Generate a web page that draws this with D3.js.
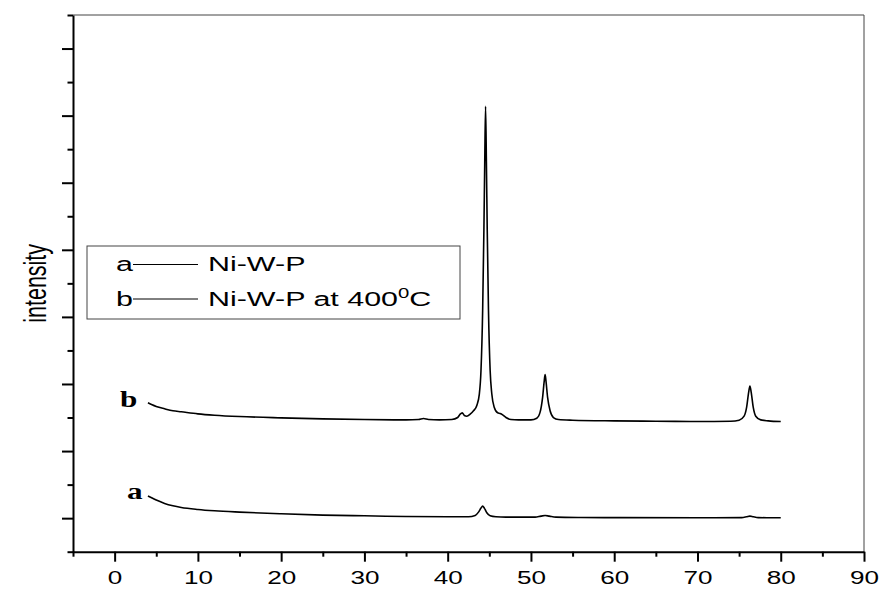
<!DOCTYPE html>
<html>
<head>
<meta charset="utf-8">
<script src="https://cdn.jsdelivr.net/npm/d3@7"></script>
<style>
body { margin: 0; background: #fff; }
</style>
</head>
<body>
<div id="chart"></div>
<script>
// tick values
const xMajor = [0, 10, 20, 30, 40, 50, 60, 70, 80, 90];
const xMinor = [-5, 5, 15, 25, 35, 45, 55, 65, 75, 85];
const yMajor = [0, 1, 2, 3, 4, 5, 6, 7];
const yMinor = [-0.5, 0.5, 1.5, 2.5, 3.5, 4.5, 5.5, 6.5, 7.5];

// curve b : Ni-W-P at 400C
const bTheta = [4, 4.5, 5, 6, 7, 8, 10, 12, 15, 20, 25, 30, 35, 36.5, 37.1, 37.7, 39, 40.5, 41.2, 41.5,
    41.75, 42.0, 42.3, 42.7, 43.1, 43.5, 43.8, 44.0, 44.2, 44.35, 44.45, 44.55, 44.65, 44.75, 44.9, 45.1,
    45.3, 45.6, 46.0, 46.3, 46.6, 47.0, 47.6, 48.5, 50.0, 50.7, 51.1, 51.4, 51.6, 51.7, 51.8, 52.0, 52.3,
    52.7, 53.3, 55, 60, 65, 70, 74, 75.0, 75.6, 75.9, 76.15, 76.3, 76.45, 76.7, 77.0, 77.6, 78.5, 80];
const bInt = [1.72, 1.69, 1.665, 1.63, 1.60, 1.585, 1.555, 1.535, 1.515, 1.495, 1.48, 1.47, 1.465, 1.47, 1.485, 1.47, 1.465, 1.47, 1.5, 1.55,
    1.57, 1.53, 1.52, 1.55, 1.6, 1.68, 1.85, 2.2, 3.1, 4.3, 5.3, 6.14, 5.3, 4.3, 3.1, 2.2,
    1.85, 1.65, 1.57, 1.56, 1.54, 1.5, 1.47, 1.465, 1.465, 1.49, 1.58, 1.8, 2.05, 2.14, 2.05, 1.8, 1.6,
    1.5, 1.47, 1.46, 1.45, 1.445, 1.44, 1.445, 1.46, 1.52, 1.65, 1.88, 1.97, 1.88, 1.65, 1.52, 1.465, 1.45, 1.44];

// curve a : Ni-W-P
const aTheta = [4, 4.5, 5, 6, 7, 8, 10, 12, 15, 20, 25, 30, 35, 40, 42.5, 43.3, 43.7, 44.0, 44.2, 44.4,
    44.7, 45.1, 45.8, 47, 50.5, 51.2, 51.7, 52.2, 53, 56, 60, 70, 75.3, 75.9, 76.3, 76.7, 77.3, 80];
const aInt = [0.33, 0.3, 0.27, 0.22, 0.185, 0.16, 0.13, 0.11, 0.09, 0.065, 0.045, 0.035, 0.025, 0.02, 0.02, 0.04, 0.09, 0.15, 0.18, 0.15,
    0.08, 0.035, 0.02, 0.015, 0.015, 0.03, 0.04, 0.03, 0.015, 0.01, 0.008, 0.005, 0.008, 0.02, 0.03, 0.02, 0.008, 0.005];

const legendKeys = ["a", "b"];
const legendNames = ["Ni-W-P", "Ni-W-P at 400"];

const width = 880, height = 589;
const m = {left: 73, right: 864, top: 15, bottom: 551.7};
const stretch = 1.45;   // the picture's text is wide

const svg = d3.select("#chart").append("svg")
    .attr("width", width)
    .attr("height", height)
    .style("font-family", "'Liberation Sans', Arial, sans-serif");

const x = d3.scaleLinear().domain([-5, 90]).range([m.left, m.right]);
const y = d3.scaleLinear().domain([-0.5, 7.5]).range([m.bottom, m.top]);

// thin frame on top and right
svg.append("path")
    .attr("d", `M${m.left},${m.top}H${m.right}V${m.bottom}`)
    .attr("fill", "none")
    .attr("stroke", "#444")
    .attr("stroke-width", 1);

// x axis
const gx = svg.append("g").attr("transform", `translate(0,${m.bottom})`)
    .call(d3.axisBottom(x).tickValues(xMajor).tickSize(10).tickSizeOuter(0).tickPadding(10));
gx.select(".domain").attr("stroke-width", 2).attr("stroke", "#000");
gx.selectAll(".tick line").attr("stroke-width", 2);
gx.selectAll(".tick text")
    .attr("font-size", 18)
    .attr("font-family", "'Liberation Sans', Arial, sans-serif")
    .attr("fill", "#000")
    .attr("transform", `scale(${stretch},1)`);

const gxm = svg.append("g").attr("transform", `translate(0,${m.bottom})`)
    .call(d3.axisBottom(x).tickValues(xMinor).tickSize(5).tickSizeOuter(0).tickFormat(""));
gxm.select(".domain").remove();
gxm.selectAll(".tick line").attr("stroke-width", 2);

// y axis, no labels
const gy = svg.append("g").attr("transform", `translate(${m.left},0)`)
    .call(d3.axisLeft(y).tickValues(yMajor).tickSize(11).tickSizeOuter(0).tickFormat(""));
gy.select(".domain").attr("stroke-width", 2).attr("stroke", "#000");
gy.selectAll(".tick line").attr("stroke-width", 2);

const gym = svg.append("g").attr("transform", `translate(${m.left},0)`)
    .call(d3.axisLeft(y).tickValues(yMinor).tickSize(5.5).tickSizeOuter(0).tickFormat(""));
gym.select(".domain").remove();
gym.selectAll(".tick line").attr("stroke-width", 2);

svg.append("text")
    .attr("transform", `translate(46,${(m.top + m.bottom) / 2}) scale(${stretch},1) rotate(-90)`)
    .attr("text-anchor", "middle")
    .attr("font-size", 21.5)
    .text("intensity");

// curves
const line = d3.line()
    .x(d => x(d[0]))
    .y(d => y(d[1]))
    .curve(d3.curveMonotoneX);

svg.append("path")
    .datum(d3.zip(aTheta, aInt))
    .attr("d", line)
    .attr("fill", "none")
    .attr("stroke", "#000")
    .attr("stroke-width", 1.6);

svg.append("path")
    .datum(d3.zip(bTheta, bInt))
    .attr("d", line)
    .attr("fill", "none")
    .attr("stroke", "#000")
    .attr("stroke-width", 1.6);

// curve letters
const letterPos = [[127, 499], [120, 407]];
legendKeys.forEach((k, i) => {
    svg.append("text")
        .attr("transform", `translate(${letterPos[i][0]},${letterPos[i][1]}) scale(1.3,1)`)
        .attr("font-family", "'Liberation Serif', 'Times New Roman', serif")
        .attr("font-weight", "bold")
        .attr("font-size", 24)
        .text(k);
});

// legend box
svg.append("rect")
    .attr("x", 87).attr("y", 246)
    .attr("width", 373).attr("height", 73)
    .attr("fill", "none")
    .attr("stroke", "#444")
    .attr("stroke-width", 1);

const rowBase = [271, 305.5];
legendKeys.forEach((k, i) => {
    svg.append("text")
        .attr("transform", `translate(116,${rowBase[i]}) scale(${stretch},1)`)
        .attr("font-size", 21)
        .text(k);
    svg.append("line")
        .attr("x1", 133).attr("x2", 198)
        .attr("y1", rowBase[i] - 6.5).attr("y2", rowBase[i] - 6.5)
        .attr("stroke", "#000")
        .attr("stroke-width", 1);
    const t = svg.append("text")
        .attr("transform", `translate(208,${rowBase[i]}) scale(${stretch},1)`)
        .attr("font-size", 21);
    t.append("tspan").text(legendNames[i]);
    if (i === 1) {
        t.append("tspan").attr("font-size", 14).attr("dy", -8).text("0");
        t.append("tspan").attr("dy", 8).text("C");
    }
});
</script>
</body>
</html>
